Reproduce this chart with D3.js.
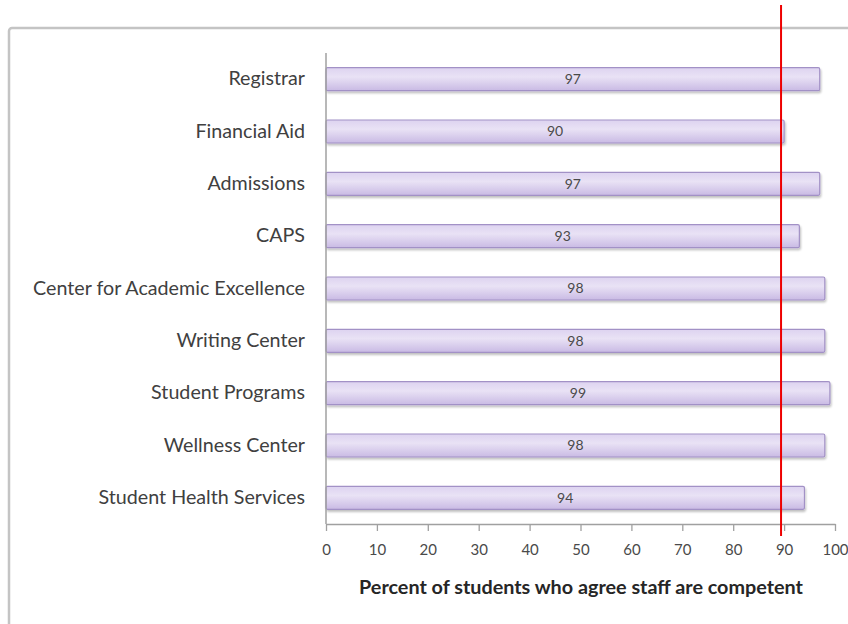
<!DOCTYPE html>
<html>
<head>
<meta charset="utf-8">
<script src="https://cdn.jsdelivr.net/npm/d3@7"></script>
<style>
  html, body { margin: 0; padding: 0; background: #fff; overflow: hidden; }
  svg { display: block; font-family: Lato, "Open Sans", sans-serif; }
</style>
</head>
<body>
<svg id="chart" width="848" height="624"></svg>
<script>
// Service offices, top to bottom
const categories = [
  "Registrar", "Financial Aid", "Admissions", "CAPS",
  "Center for Academic Excellence", "Writing Center",
  "Student Programs", "Wellness Center", "Student Health Services"
];
// Percent of students who agree staff are competent
const values = [97, 90, 97, 93, 98, 98, 99, 98, 94];
const xTicks = [0, 10, 20, 30, 40, 50, 60, 70, 80, 90, 100];
const threshold = [89.4];
const axisTitle = "Percent of students who agree staff are competent";

const svg = d3.select("#chart");

// gradient for the bars
const defs = svg.append("defs");
const grad = defs.append("linearGradient")
  .attr("id", "barFill").attr("x1", 0).attr("y1", 0).attr("x2", 0).attr("y2", 1);
grad.append("stop").attr("offset", "0%").attr("stop-color", "#ddd3f0");
grad.append("stop").attr("offset", "40%").attr("stop-color", "#e9e2f5");
grad.append("stop").attr("offset", "100%").attr("stop-color", "#c9bae4");

const shadow = defs.append("filter").attr("id", "shadow")
  .attr("x", "-5%").attr("y", "-20%").attr("width", "110%").attr("height", "160%");
shadow.append("feGaussianBlur").attr("in", "SourceAlpha").attr("stdDeviation", 1.2).attr("result", "b");
shadow.append("feOffset").attr("in", "b").attr("dx", 1).attr("dy", 1.5).attr("result", "o");
shadow.append("feComponentTransfer").attr("in", "o").attr("result", "s")
  .append("feFuncA").attr("type", "linear").attr("slope", 0.25);
const merge = shadow.append("feMerge");
merge.append("feMergeNode").attr("in", "s");
merge.append("feMergeNode").attr("in", "SourceGraphic");

// outer frame
svg.append("rect")
  .attr("x", 9).attr("y", 28).attr("width", 900).attr("height", 700)
  .attr("rx", 3)
  .attr("fill", "#fff")
  .attr("stroke", "#c4c4c4").attr("stroke-width", 2.5);

const x = d3.scaleLinear().domain([0, 100]).range([326, 835]);
const y = d3.scaleBand().domain(categories).range([53, 524]).paddingInner(0.56).paddingOuter(0.28);

// bars
svg.append("g").selectAll("rect")
  .data(values)
  .join("rect")
  .attr("x", x(0))
  .attr("y", (d, i) => y(categories[i]))
  .attr("width", d => x(d) - x(0))
  .attr("height", y.bandwidth())
  .attr("fill", "url(#barFill)")
  .attr("stroke", "#a291c6").attr("stroke-width", 1.2)
  .attr("rx", 1.5)
  .attr("filter", "url(#shadow)");

// value labels at bar middle
svg.append("g").selectAll("text")
  .data(values)
  .join("text")
  .attr("x", d => x(d / 2))
  .attr("y", (d, i) => y(categories[i]) + y.bandwidth() / 2)
  .attr("dy", "0.35em")
  .attr("text-anchor", "middle")
  .attr("font-size", 14)
  .attr("fill", "#4a4a4a")
  .text(d => d);

// category axis
const yAxis = svg.append("g")
  .attr("transform", `translate(${x(0)},0)`)
  .call(d3.axisLeft(y).tickSize(0).tickPadding(21));
yAxis.select(".domain").attr("stroke", "#a0a0a0").attr("stroke-width", 1.5)
  .attr("d", `M0,${y.range()[0]}V${y.range()[1]}`);
yAxis.selectAll("text").attr("font-size", 19.7).attr("fill", "#404040")
  .attr("font-family", "Lato, sans-serif");

// value axis
const xAxis = svg.append("g")
  .attr("transform", `translate(0,${y.range()[1]})`)
  .call(d3.axisBottom(x).tickValues(xTicks).tickSize(7).tickSizeOuter(0).tickPadding(13));
xAxis.select(".domain").attr("stroke", "#a0a0a0").attr("stroke-width", 1.5);
xAxis.selectAll("line").attr("stroke", "#a0a0a0").attr("stroke-width", 1.3);
xAxis.selectAll("text").attr("font-size", 15).attr("fill", "#4a4a4a")
  .attr("font-family", "Lato, sans-serif");

// axis title
svg.append("text")
  .attr("x", 581).attr("y", 587)
  .attr("dy", "0.35em")
  .attr("text-anchor", "middle")
  .attr("font-size", 19.8).attr("font-weight", "bold")
  .attr("fill", "#262626")
  .text(axisTitle);

// reference line
svg.append("g").selectAll("line")
  .data(threshold)
  .join("line")
  .attr("x1", d => x(d)).attr("x2", d => x(d))
  .attr("y1", 5).attr("y2", 536)
  .attr("stroke", "#ee0000").attr("stroke-width", 2);
</script>
</body>
</html>
